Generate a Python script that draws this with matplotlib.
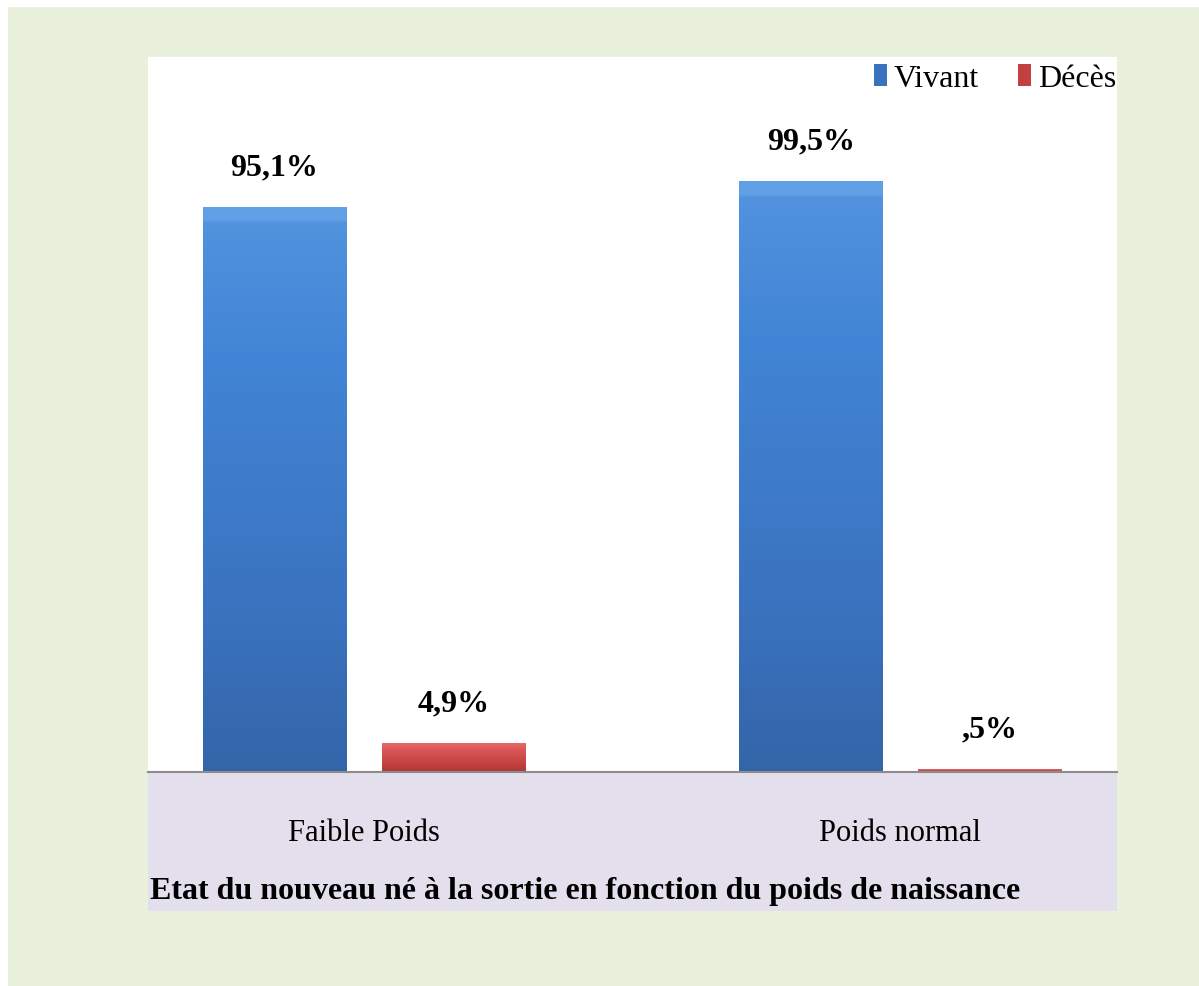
import numpy as np
import matplotlib
matplotlib.use("Agg")
import matplotlib.pyplot as plt
from matplotlib.patches import Rectangle, Patch
from matplotlib.colors import LinearSegmentedColormap

categories = ["Faible Poids", "Poids normal"]
series_names = ["Vivant", "Décès"]
vivant = [95.1, 99.5]
deces = [4.9, 0.5]
vivant_labels = ["95,1%", "99,5%"]
deces_labels = ["4,9%", ",5%"]
title = "Etat du nouveau né à la sortie en fonction du poids de naissance"

W, H = 1199, 987
fig = plt.figure(figsize=(W / 100, H / 100), dpi=100)
fig.patch.set_facecolor("white")

def px_rect(x0, y0, x1, y1, color, z=-10):
    fig.patches.append(Rectangle((x0 / W, 1 - y1 / H), (x1 - x0) / W, (y1 - y0) / H,
                                 transform=fig.transFigure, facecolor=color,
                                 edgecolor="none", zorder=z))

px_rect(8, 8, W, H, "#E9F0DC", -10)
px_rect(148, 773, 1117, 912, "#E4DFEC", -9)

ax = fig.add_axes([148 / W, 1 - 773 / H, (1117 - 148) / W, (773 - 58) / H])
ax.set_zorder(5)
ax.set_facecolor("white")
for s in ["top", "right", "left"]:
    ax.spines[s].set_visible(False)
ax.spines["bottom"].set_color("#8C8C8C")
ax.spines["bottom"].set_linewidth(1.5)
ax.set_yticks([])

x = np.arange(len(categories))
bw = 0.267
off = 0.167

serif = ["Liberation Serif", "DejaVu Serif"]

blue_cmap = LinearSegmentedColormap.from_list("b", ["#2E5B98", "#3A72BE", "#4285D6", "#62A0E6"])
red_cmap = LinearSegmentedColormap.from_list("r", ["#9E2F2F", "#C24040", "#DA5656", "#EE8080"])

def grad_bars(bars, cmap):
    for b in bars:
        x0, y0 = b.get_x(), b.get_y()
        w, h = b.get_width(), b.get_height()
        n = 200
        t = np.linspace(0, 1, n)
        g = 0.15 + 0.7 * t
        g[t > 0.975] = 1.0
        img = np.tile(g[:, None], (1, 20))
        im = ax.imshow(img, cmap=cmap, vmin=0, vmax=1, origin="lower", aspect="auto",
                       extent=(x0, x0 + w, y0, y0 + h), zorder=2, interpolation="bilinear")
        im.set_clip_path(b)

b1 = ax.bar(x - off, vivant, bw, color="#3A72BE", edgecolor="none", zorder=1, label=series_names[0])
b2 = ax.bar(x + off, deces, bw, color="#C24040", edgecolor="none", zorder=1, label=series_names[1])
grad_bars(b1, blue_cmap)
grad_bars(b2, red_cmap)
ax.set_xlim(-0.403, 1.404)
ax.set_ylim(0, 120.4)

for bars, labs in [(b1, vivant_labels), (b2, deces_labels)]:
    for b, lab in zip(bars, labs):
        ax.annotate(lab, (b.get_x() + b.get_width() / 2, b.get_height()),
                    xytext=(0, 29), textcoords="offset points", ha="center", va="center",
                    fontsize=23, fontweight="bold", family=serif, color="black")

ax.set_xticks(x)
ax.set_xticklabels(categories, family=serif, fontsize=22)
ax.tick_params(axis="x", length=0, pad=33)

handles = [Patch(facecolor="#3A72BE"), Patch(facecolor="#C24040")]
leg = ax.legend(handles, series_names, loc="upper right", bbox_to_anchor=(1.012, 1.008),
                ncol=2, frameon=False, handlelength=0.4, handleheight=0.7,
                handletextpad=0.2, columnspacing=1.25, borderaxespad=0.0,
                prop={"family": serif, "size": 23})

fig.text(150 / W, 1 - 892 / H, title, family=serif, fontweight="bold", fontsize=23,
         ha="left", va="center", color="black", zorder=10)

fig.savefig("out.png", dpi=100)
